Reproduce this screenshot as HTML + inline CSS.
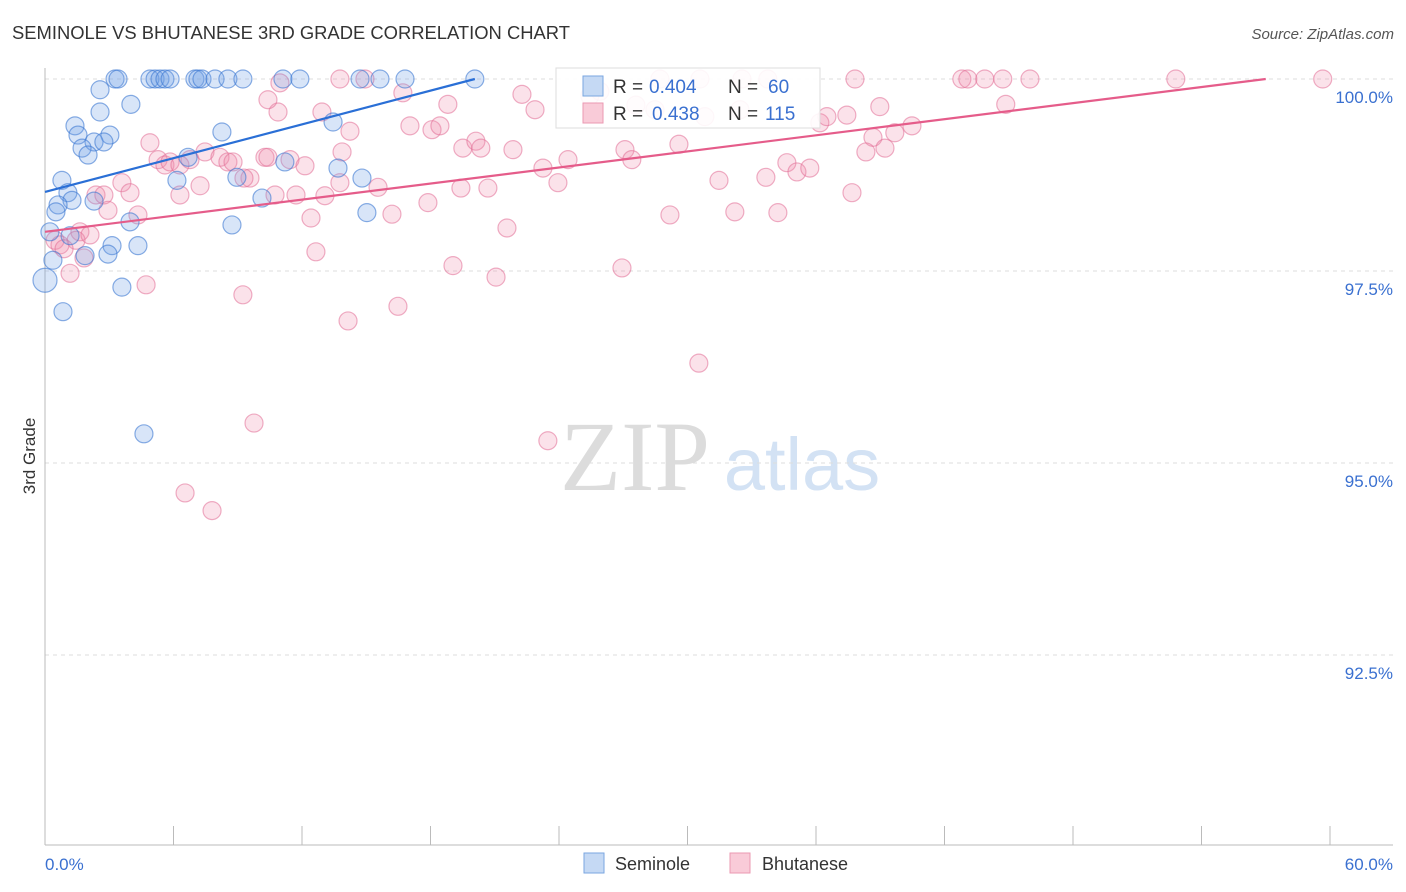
<!DOCTYPE html>
<html><head><meta charset="utf-8"><style>
body{margin:0;background:#fff;font-family:"Liberation Sans",sans-serif;}
svg{display:block}
</style></head><body>
<svg id="c" width="1406" height="892" viewBox="0 0 1406 892">
<text x="12" y="39" font-size="18.4" fill="#333">SEMINOLE VS BHUTANESE 3RD GRADE CORRELATION CHART</text>
<text x="1394" y="39" font-size="15" fill="#555" text-anchor="end" font-style="italic">Source: ZipAtlas.com</text>
<text x="635" y="490" font-size="100" fill="#dcdcdc" text-anchor="middle" font-family="Liberation Serif,serif">ZIP</text>
<text x="802" y="490" font-size="74" fill="#d3e2f4" text-anchor="middle">atlas</text>
<text x="35" y="456" font-size="17" fill="#333" text-anchor="middle" transform="rotate(-90 35 456)">3rd Grade</text>
<g id="grid"></g><g id="pts"></g><g id="lines"></g>
<g>
<rect x="556" y="68" width="264" height="60" fill="#fff" fill-opacity="0.9" stroke="#ddd"/>
<rect x="583" y="76" width="20" height="20" fill="#c5d9f4" stroke="#7aa6e0"/>
<text x="613" y="93" font-size="19" fill="#333">R =</text>
<text x="649" y="93" font-size="19" fill="#3a70d0">0.404</text>
<text x="728" y="93" font-size="19" fill="#333">N =</text>
<text x="768" y="93" font-size="19" fill="#3a70d0">60</text>
<rect x="583" y="103" width="20" height="20" fill="#f9cbd8" stroke="#eb98b2"/>
<text x="613" y="120" font-size="19" fill="#333">R =</text>
<text x="652" y="120" font-size="19" fill="#3a70d0">0.438</text>
<text x="728" y="120" font-size="19" fill="#333">N =</text>
<text x="765" y="120" font-size="19" fill="#3a70d0">115</text>
</g>
<g>
<rect x="584" y="853" width="20" height="20" fill="#c5d9f4" stroke="#7aa6e0"/>
<text x="615" y="870" font-size="18" fill="#333">Seminole</text>
<rect x="730" y="853" width="20" height="20" fill="#f9cbd8" stroke="#eb98b2"/>
<text x="762" y="870" font-size="18" fill="#333">Bhutanese</text>
</g>
</svg>
<script>
const blueX=[3.27,3.41,4.90,5.14,5.37,5.60,5.84,7.00,7.14,7.33,7.94,8.54,9.24,11.11,11.90,14.71,15.64,16.81,20.07,2.57,2.57,4.01,1.40,1.54,3.03,2.29,2.75,1.73,2.01,8.26,13.45,6.68,11.20,13.68,14.80,6.16,8.96,0.79,1.07,1.26,2.29,0.61,0.51,10.13,15.03,3.97,8.73,0.23,1.17,3.13,4.34,1.87,2.94,0.37,0.0,3.59,0.84,4.62];
const blueY=[100,100,100,100,100,100,100,100,100,100,100,100,100,100,100,100,100,100,100,99.86,99.57,99.67,99.39,99.27,99.27,99.18,99.18,99.10,99.01,99.31,99.44,98.98,98.92,98.84,98.71,98.68,98.72,98.68,98.52,98.42,98.41,98.36,98.27,98.45,98.26,98.14,98.10,98.01,97.96,97.83,97.83,97.70,97.72,97.64,97.38,97.29,96.97,95.38];
const pinkX=[4.90,5.28,5.60,5.84,6.30,6.77,7.47,8.17,8.54,8.78,9.57,10.27,10.41,11.44,7.24,6.30,3.59,3.97,2.38,2.75,2.94,4.34,1.63,1.45,0.47,0.70,0.89,2.10,1.82,1.17,4.72,9.24,9.76,6.54,7.80,10.97,10.88,12.93,14.24,13.87,12.14,13.07,13.77,15.55,16.20,12.42,12.65,14.15,16.48,19.05,21.06,23.48,30.53,26.94,16.71,17.04,18.07,18.44,18.81,19.51,20.12,20.35,21.85,22.27,22.88,24.42,23.25,23.95,19.42,20.68,17.88,21.57,25.91,27.08,27.40,29.60,29.18,31.47,32.21,33.66,34.22,34.64,35.11,35.71,37.68,36.18,36.51,37.44,37.82,38.98,38.66,38.33,39.22,39.68,40.48,42.81,43.09,43.88,44.72,45.99,44.86,52.80,59.66,28.71,30.58,32.54,33.75,13.77,14.94,27.59,28.48,30.81,32.45,25.44,10.74,11.72,9.29,10.41];
const pinkY=[99.17,98.95,98.88,98.92,98.88,98.95,99.05,98.98,98.92,98.92,98.71,98.98,98.98,98.95,98.61,98.49,98.65,98.52,98.49,98.49,98.29,98.23,98.01,97.90,97.90,97.84,97.79,97.97,97.67,97.47,97.32,97.19,95.52,94.61,94.38,99.95,99.57,99.57,99.32,99.05,98.87,98.48,98.65,98.59,98.24,98.19,97.75,96.85,97.04,97.57,97.42,95.29,96.30,97.54,99.82,99.39,99.34,99.39,99.67,99.10,99.19,99.10,99.08,99.80,99.60,98.95,98.84,98.65,98.58,98.58,98.39,98.06,99.84,99.08,98.95,99.15,98.23,98.68,98.27,98.72,98.26,98.91,98.79,98.84,98.52,99.43,99.51,99.53,100,99.64,99.24,99.05,99.10,99.30,99.39,100,100,100,100,100,99.67,100,100,100,100,100,100,100,100,99.66,99.60,99.51,99.60,99.78,98.49,98.49,98.71,99.73];
const blueLineX=[0,20.07], blueLineY=[98.53,100];
const pinkLineX=[0,57.0], pinkLineY=[98.01,100];
const yTicks=[100,97.5,95,92.5];
const yTickLabels=["100.0%","97.5%","95.0%","92.5%"];
const xTicks=[0,6,12,18,24,30,36,42,48,54,60];
const NS="http://www.w3.org/2000/svg";
const sx=v=>45+v*(1285/60);
const sy=v=>79+(100-v)*76.8;
function mk(t,a,p){const e=document.createElementNS(NS,t);for(const k in a)e.setAttribute(k,a[k]);p.appendChild(e);return e;}
const grid=document.getElementById('grid');
yTicks.forEach((t,i)=>{
 const l=mk('line',{x1:45,x2:1393,y1:sy(t),y2:sy(t),stroke:'#ddd','stroke-dasharray':'4,4'},grid);
 
 
 const tx=mk('text',{x:1393,y:sy(t)+24,'text-anchor':'end','font-size':17,fill:'#3a70d0'},grid);
 tx.textContent=yTickLabels[i];
 
 
});
const ax=mk('line',{x1:45,x2:1393,y1:845,y2:845,stroke:'#bbb'},grid);


const ay=mk('line',{x1:45,x2:45,y1:68,y2:845,stroke:'#bbb'},grid);


xTicks.forEach(t=>{
 const l=mk('line',{x1:sx(t),x2:sx(t),y1:826,y2:845,stroke:'#bbb'},grid);
 
 
});
const x0=mk('text',{x:45,y:870,'font-size':17,fill:'#3a70d0'},grid);x0.textContent='0.0%';


const x1=mk('text',{x:1393,y:870,'font-size':17,fill:'#3a70d0','text-anchor':'end'},grid);x1.textContent='60.0%';


const pts=document.getElementById('pts');
pinkX.forEach((x,i)=>{
 const c=mk('circle',{cx:sx(x),cy:sy(pinkY[i]),r:9,fill:'rgba(240,140,170,0.25)',stroke:'rgba(225,110,150,0.55)','stroke-width':1.2},pts);
 
 
});
blueX.forEach((x,i)=>{
 const c=mk('circle',{cx:sx(x),cy:sy(blueY[i]),r:x===0?12:9,fill:'rgba(110,160,230,0.27)',stroke:'rgba(60,120,210,0.6)','stroke-width':1.2},pts);
 
 
});
const lines=document.getElementById('lines');
const bl=mk('line',{x1:sx(blueLineX[0]),y1:sy(blueLineY[0]),x2:sx(blueLineX[1]),y2:sy(blueLineY[1]),stroke:'#2a6fd6','stroke-width':2.2},lines);


const pl=mk('line',{x1:sx(pinkLineX[0]),y1:sy(pinkLineY[0]),x2:sx(pinkLineX[1]),y2:sy(pinkLineY[1]),stroke:'#e55c8a','stroke-width':2.2},lines);


</script>
</body></html>
